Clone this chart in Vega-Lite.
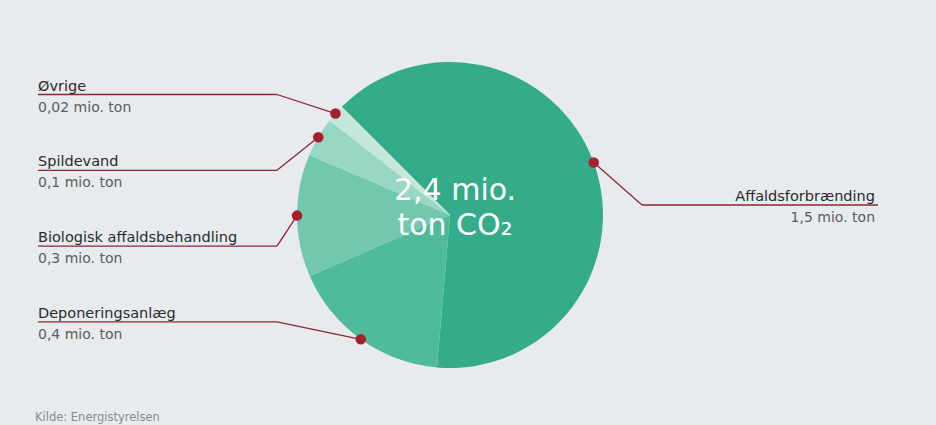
{
  "$schema": "https://vega.github.io/schema/vega-lite/v6.json",
  "width": 900,
  "height": 420,
  "padding": {"left": 0, "top": 5, "right": 36, "bottom": 0},
  "autosize": {"type": "none"},
  "background": "#e8ebee",
  "config": {"view": {"stroke": null}, "text": {"font": "DejaVu Sans"}},
  "data": {
    "values": [
      {"kategori": "Affaldsforbrænding", "mio_ton": 1.53, "tekst": "1,5 mio. ton", "orden": 1, "side": "h"},
      {"kategori": "Deponeringsanlæg", "mio_ton": 0.41, "tekst": "0,4 mio. ton", "orden": 2, "side": "v"},
      {"kategori": "Biologisk affaldsbehandling", "mio_ton": 0.31, "tekst": "0,3 mio. ton", "orden": 3, "side": "v"},
      {"kategori": "Spildevand", "mio_ton": 0.1, "tekst": "0,1 mio. ton", "orden": 4, "side": "v"},
      {"kategori": "Øvrige", "mio_ton": 0.046, "tekst": "0,02 mio. ton", "orden": 5, "side": "v"}
    ]
  },
  "transform": [
    {"window": [{"op": "sum", "field": "mio_ton", "as": "kum"}], "sort": [{"field": "orden"}], "frame": [null, 0]},
    {"joinaggregate": [{"op": "sum", "field": "mio_ton", "as": "total"}]},
    {"calculate": "-PI/4 + 2*PI*(datum.kum - datum.mio_ton/2)/datum.total", "as": "midt"},
    {"calculate": "450 + 153*sin(datum.midt)", "as": "px"},
    {"calculate": "210 - 153*cos(datum.midt)", "as": "py"},
    {"calculate": "datum.side == 'v' ? 89.5 + 75.8*(5 - datum.orden) : 200", "as": "ly"},
    {"calculate": "datum.side == 'v' ? 277 : 642", "as": "kx"},
    {"calculate": "datum.side == 'v' ? 38 : 878", "as": "ex"}
  ],
  "layer": [
    {
      "mark": {"type": "arc", "outerRadius": 153},
      "encoding": {
        "theta": {"field": "mio_ton", "type": "quantitative", "stack": true, "scale": {"range": [-0.7854, 5.4978]}},
        "color": {
          "field": "kategori", "type": "nominal", "legend": null,
          "scale": {
            "domain": ["Affaldsforbrænding", "Deponeringsanlæg", "Biologisk affaldsbehandling", "Spildevand", "Øvrige"],
            "range": ["#34ac89", "#4fbb9b", "#72c8ad", "#98d7c3", "#c4e7da"]
          }
        },
        "order": {"field": "orden", "type": "quantitative"}
      }
    },
    {
      "mark": {"type": "rule", "color": "#8b2633", "strokeWidth": 1.3},
      "encoding": {
        "x": {"field": "ex", "type": "quantitative", "axis": null, "scale": {"domain": [0, 900], "nice": false}},
        "x2": {"field": "kx"},
        "y": {"field": "ly", "type": "quantitative", "axis": null, "scale": {"domain": [0, 420], "nice": false, "reverse": true}}
      }
    },
    {
      "mark": {"type": "rule", "color": "#8b2633", "strokeWidth": 1.3},
      "encoding": {
        "x": {"field": "kx", "type": "quantitative"},
        "x2": {"field": "px"},
        "y": {"field": "ly", "type": "quantitative"},
        "y2": {"field": "py"}
      }
    },
    {
      "mark": {"type": "point", "filled": true, "color": "#a81f2e", "opacity": 1, "size": 110},
      "encoding": {
        "x": {"field": "px", "type": "quantitative"},
        "y": {"field": "py", "type": "quantitative"}
      }
    },
    {
      "transform": [{"filter": "datum.side == 'v'"}],
      "mark": {"type": "text", "align": "left", "baseline": "alphabetic", "dy": -4, "fontSize": 14.5, "color": "#2a2a2a"},
      "encoding": {
        "x": {"field": "ex", "type": "quantitative"},
        "y": {"field": "ly", "type": "quantitative"},
        "text": {"field": "kategori"}
      }
    },
    {
      "transform": [{"filter": "datum.side == 'v'"}],
      "mark": {"type": "text", "align": "left", "baseline": "alphabetic", "dy": 17, "fontSize": 14, "color": "#5c5c5c"},
      "encoding": {
        "x": {"field": "ex", "type": "quantitative"},
        "y": {"field": "ly", "type": "quantitative"},
        "text": {"field": "tekst"}
      }
    },
    {
      "transform": [{"filter": "datum.side == 'h'"}],
      "mark": {"type": "text", "align": "right", "baseline": "alphabetic", "dy": -4, "dx": -3, "fontSize": 14.5, "color": "#2a2a2a"},
      "encoding": {
        "x": {"field": "ex", "type": "quantitative"},
        "y": {"field": "ly", "type": "quantitative"},
        "text": {"field": "kategori"}
      }
    },
    {
      "transform": [{"filter": "datum.side == 'h'"}],
      "mark": {"type": "text", "align": "right", "baseline": "alphabetic", "dy": 17, "dx": -3, "fontSize": 14, "color": "#5c5c5c"},
      "encoding": {
        "x": {"field": "ex", "type": "quantitative"},
        "y": {"field": "ly", "type": "quantitative"},
        "text": {"field": "tekst"}
      }
    },
    {
      "data": {"values": [{"linjer": ["2,4 mio.", "ton CO₂"], "x": 455, "y": 195}]},
      "mark": {"type": "text", "align": "center", "baseline": "alphabetic", "fontSize": 30, "lineHeight": 35, "color": "#ffffff"},
      "encoding": {
        "x": {"field": "x", "type": "quantitative"},
        "y": {"field": "y", "type": "quantitative"},
        "text": {"field": "linjer"}
      }
    },
    {
      "data": {"values": [{"kilde": "Kilde: Energistyrelsen", "x": 35, "y": 416}]},
      "mark": {"type": "text", "align": "left", "baseline": "alphabetic", "fontSize": 11.5, "color": "#8a8a8a"},
      "encoding": {
        "x": {"field": "x", "type": "quantitative"},
        "y": {"field": "y", "type": "quantitative"},
        "text": {"field": "kilde"}
      }
    }
  ]
}
